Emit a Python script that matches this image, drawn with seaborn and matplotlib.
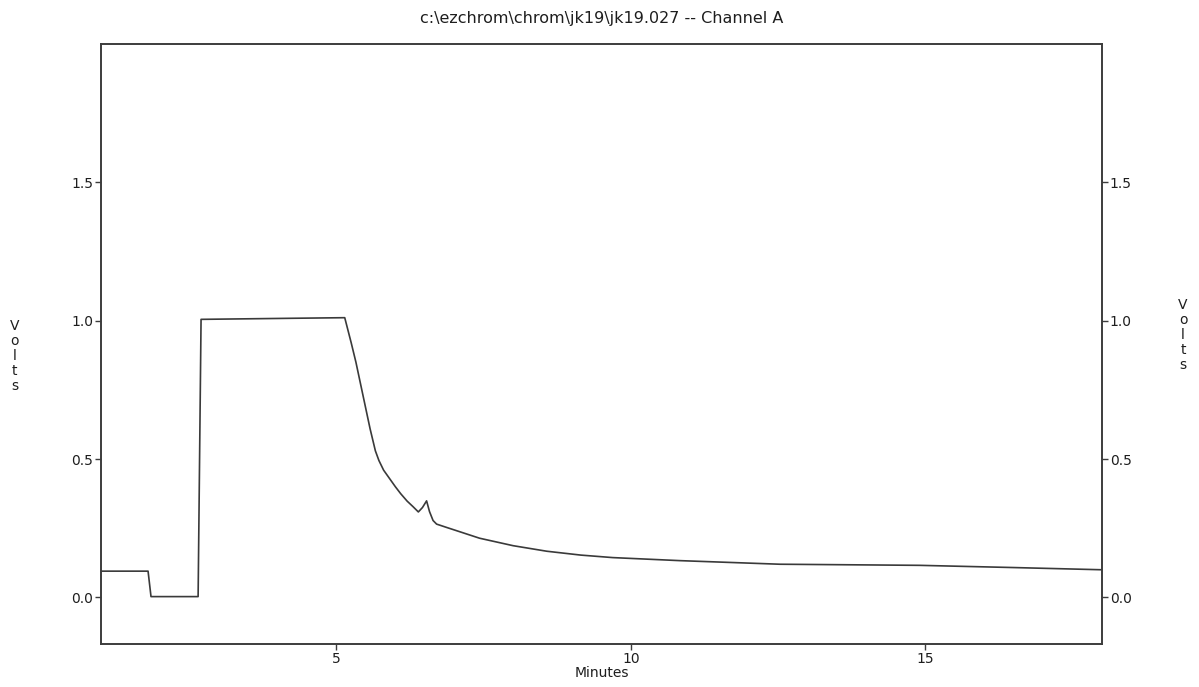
import matplotlib
matplotlib.use("Agg")
import matplotlib.pyplot as plt
import seaborn as sns
import pandas as pd

# Detector trace, channel A (time in minutes, signal in volts)
minutes = [1.00, 1.80, 1.85, 2.65, 2.70, 3.50, 4.30, 5.14,
           5.25, 5.33, 5.45, 5.57, 5.66, 5.72, 5.80, 5.91,
           6.00, 6.09, 6.20, 6.30, 6.39, 6.46, 6.53, 6.58,
           6.64, 6.70, 6.87, 7.10, 7.43, 8.00, 8.57, 9.15,
           9.69, 10.83, 12.53, 14.90, 16.50, 18.00]
volts = [0.095, 0.095, 0.003, 0.003, 1.005, 1.007, 1.009, 1.011,
         0.920, 0.850, 0.730, 0.610, 0.530, 0.495, 0.460, 0.427,
         0.400, 0.375, 0.348, 0.328, 0.309, 0.325, 0.349, 0.310,
         0.278, 0.265, 0.253, 0.237, 0.214, 0.187, 0.167, 0.153,
         0.144, 0.133, 0.120, 0.116, 0.108, 0.100]

x_ticks = [5, 10, 15]
y_ticks = [0.0, 0.5, 1.0, 1.5]
y_tick_labels = ["0.0", "0.5", "1.0", "1.5"]
title_text = "c:\\ezchrom\\chrom\\jk19\\jk19.027 -- Channel A"

sns.set_theme(style="ticks")
plt.rcParams["font.family"] = ["DejaVu Sans"]

ink = "#3c3c3c"
text_ink = "#1e1e1e"
df = pd.DataFrame({"Minutes": minutes, "Volts": volts})

fig = plt.figure(figsize=(11.99, 6.87), dpi=100)
ax = fig.add_axes([0.0842, 0.0619, 0.8349, 0.8740])

sns.lineplot(data=df, x="Minutes", y="Volts", ax=ax, color="#3a3a3a",
             linewidth=1.2, sort=False, estimator=None)

ax.set_xlim(1.0, 18.0)
ax.set_ylim(-0.17, 2.0)
ax.set_xticks(x_ticks)
ax.set_xticklabels([str(v) for v in x_ticks])
ax.set_yticks(y_ticks)
ax.set_yticklabels(y_tick_labels)

for side in ["left", "right", "top", "bottom"]:
    ax.spines[side].set_visible(True)
    ax.spines[side].set_linewidth(1.4)
    ax.spines[side].set_color(ink)

ax.tick_params(axis="both", direction="out", length=4, width=1.0,
               color=ink, labelsize=10, labelcolor=text_ink, pad=1.5)

# Mirror of the volts scale on the right-hand side
ax2 = ax.twinx()
ax2.set_ylim(ax.get_ylim())
ax2.set_yticks(y_ticks)
ax2.set_yticklabels(y_tick_labels)
ax2.tick_params(axis="y", direction="out", length=4, width=1.0,
                color=ink, labelsize=10, labelcolor=text_ink, pad=1.5)
for side in ["left", "right", "top", "bottom"]:
    ax2.spines[side].set_visible(False)

stacked = "V\no\nl\nt\ns"
ax.set_ylabel(stacked, rotation=0, fontsize=10, linespacing=1.1,
              color=text_ink, ha="center", va="center")
ax.yaxis.set_label_coords(-0.086, 0.48)
ax2.set_ylabel(stacked, rotation=0, fontsize=10, linespacing=1.1,
               color=text_ink, ha="center", va="center")
ax2.yaxis.set_label_coords(1.081, 0.515)

ax.set_xlabel("Minutes", fontsize=10, color=text_ink, labelpad=0)
ax.set_title(title_text, fontsize=11.5, color=text_ink, pad=15)

fig.savefig("out.png", dpi=100)
